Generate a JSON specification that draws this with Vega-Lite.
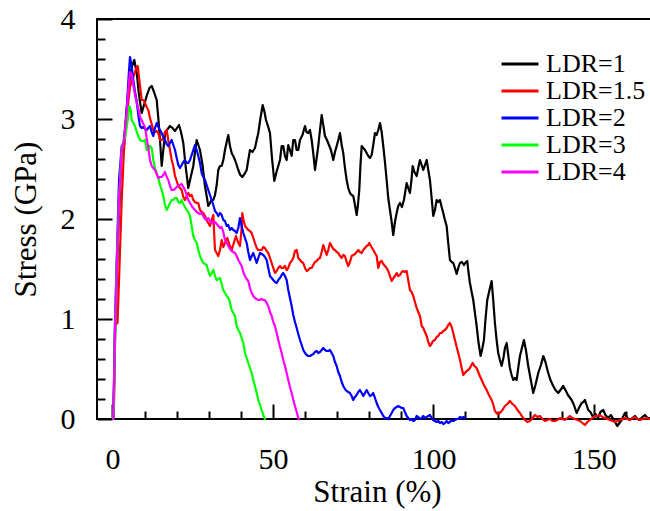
{
"$schema": "https://vega.github.io/schema/vega-lite/v6.json",
"autosize": {"type": "none"},
"padding": {"left": 97, "top": 19, "right": 0, "bottom": 92},
"width": 554,
"height": 400,
"background": "white",
"config": {
  "view": {"stroke": "black", "strokeWidth": 2},
  "font": "Times New Roman, Liberation Serif, DejaVu Serif, serif",
  "axis": {"grid": false, "domain": false, "tickColor": "black", "tickWidth": 2, "labelColor": "black", "titleColor": "black", "labelFont": "Times New Roman, Liberation Serif, DejaVu Serif, serif", "titleFont": "Times New Roman, Liberation Serif, DejaVu Serif, serif", "labelFontSize": 30, "titleFontSize": 31, "titleFontWeight": "normal", "labelOverlap": false, "labelFlush": false},
  "legend": {"labelFont": "Times New Roman, Liberation Serif, DejaVu Serif, serif"}
},
"datasets": {"curves": [
{"LDR":"LDR=1","strain":0.28,"stress":0},{"LDR":"LDR=1","strain":0.97,"stress":0.99},{"LDR":"LDR=1","strain":1.74,"stress":1.79},{"LDR":"LDR=1","strain":2.9,"stress":2.69},{"LDR":"LDR=1","strain":3.61,"stress":2.79},{"LDR":"LDR=1","strain":4.39,"stress":3.09},{"LDR":"LDR=1","strain":5.17,"stress":3.34},{"LDR":"LDR=1","strain":6.01,"stress":3.52},{"LDR":"LDR=1","strain":6.82,"stress":3.59},{"LDR":"LDR=1","strain":7.57,"stress":3.46},{"LDR":"LDR=1","strain":8.29,"stress":3.24},{"LDR":"LDR=1","strain":9.13,"stress":3.06},{"LDR":"LDR=1","strain":9.84,"stress":3.14},{"LDR":"LDR=1","strain":10.78,"stress":3.24},{"LDR":"LDR=1","strain":11.56,"stress":3.31},{"LDR":"LDR=1","strain":12.24,"stress":3.33},{"LDR":"LDR=1","strain":12.96,"stress":3.27},{"LDR":"LDR=1","strain":13.8,"stress":3.19},{"LDR":"LDR=1","strain":14.3,"stress":3.01},{"LDR":"LDR=1","strain":14.83,"stress":2.79},{"LDR":"LDR=1","strain":15.36,"stress":2.53},{"LDR":"LDR=1","strain":15.86,"stress":2.69},{"LDR":"LDR=1","strain":16.38,"stress":2.84},{"LDR":"LDR=1","strain":17.01,"stress":2.89},{"LDR":"LDR=1","strain":17.94,"stress":2.93},{"LDR":"LDR=1","strain":18.72,"stress":2.91},{"LDR":"LDR=1","strain":19.5,"stress":2.88},{"LDR":"LDR=1","strain":20.12,"stress":2.91},{"LDR":"LDR=1","strain":20.75,"stress":2.94},{"LDR":"LDR=1","strain":21.37,"stress":2.87},{"LDR":"LDR=1","strain":22.09,"stress":2.76},{"LDR":"LDR=1","strain":22.77,"stress":2.54},{"LDR":"LDR=1","strain":23.64,"stress":2.31},{"LDR":"LDR=1","strain":24.33,"stress":2.41},{"LDR":"LDR=1","strain":25.2,"stress":2.53},{"LDR":"LDR=1","strain":25.73,"stress":2.67},{"LDR":"LDR=1","strain":26.26,"stress":2.79},{"LDR":"LDR=1","strain":26.76,"stress":2.74},{"LDR":"LDR=1","strain":27.29,"stress":2.69},{"LDR":"LDR=1","strain":28.07,"stress":2.54},{"LDR":"LDR=1","strain":28.84,"stress":2.33},{"LDR":"LDR=1","strain":29.47,"stress":2.21},{"LDR":"LDR=1","strain":29.87,"stress":2.13},{"LDR":"LDR=1","strain":30.4,"stress":2.16},{"LDR":"LDR=1","strain":30.87,"stress":2.19},{"LDR":"LDR=1","strain":31.43,"stress":2.19},{"LDR":"LDR=1","strain":31.96,"stress":2.24},{"LDR":"LDR=1","strain":32.49,"stress":2.34},{"LDR":"LDR=1","strain":32.99,"stress":2.49},{"LDR":"LDR=1","strain":33.52,"stress":2.53},{"LDR":"LDR=1","strain":34.05,"stress":2.53},{"LDR":"LDR=1","strain":34.55,"stress":2.59},{"LDR":"LDR=1","strain":35.07,"stress":2.69},{"LDR":"LDR=1","strain":35.6,"stress":2.77},{"LDR":"LDR=1","strain":36.1,"stress":2.84},{"LDR":"LDR=1","strain":36.63,"stress":2.73},{"LDR":"LDR=1","strain":37.16,"stress":2.66},{"LDR":"LDR=1","strain":37.66,"stress":2.63},{"LDR":"LDR=1","strain":38.19,"stress":2.59},{"LDR":"LDR=1","strain":38.72,"stress":2.54},{"LDR":"LDR=1","strain":39.22,"stress":2.49},{"LDR":"LDR=1","strain":39.84,"stress":2.44},{"LDR":"LDR=1","strain":40.46,"stress":2.42},{"LDR":"LDR=1","strain":41.15,"stress":2.45},{"LDR":"LDR=1","strain":41.83,"stress":2.49},{"LDR":"LDR=1","strain":42.33,"stress":2.59},{"LDR":"LDR=1","strain":42.86,"stress":2.69},{"LDR":"LDR=1","strain":43.64,"stress":2.67},{"LDR":"LDR=1","strain":44.42,"stress":2.71},{"LDR":"LDR=1","strain":44.95,"stress":2.79},{"LDR":"LDR=1","strain":45.45,"stress":2.86},{"LDR":"LDR=1","strain":46.13,"stress":3.01},{"LDR":"LDR=1","strain":46.82,"stress":3.14},{"LDR":"LDR=1","strain":47.38,"stress":3.07},{"LDR":"LDR=1","strain":47.85,"stress":2.99},{"LDR":"LDR=1","strain":48.47,"stress":2.93},{"LDR":"LDR=1","strain":49.09,"stress":2.86},{"LDR":"LDR=1","strain":49.72,"stress":2.61},{"LDR":"LDR=1","strain":50.43,"stress":2.38},{"LDR":"LDR=1","strain":51.12,"stress":2.47},{"LDR":"LDR=1","strain":51.68,"stress":2.53},{"LDR":"LDR=1","strain":52.21,"stress":2.59},{"LDR":"LDR=1","strain":52.74,"stress":2.73},{"LDR":"LDR=1","strain":53.23,"stress":2.73},{"LDR":"LDR=1","strain":53.76,"stress":2.63},{"LDR":"LDR=1","strain":54.29,"stress":2.59},{"LDR":"LDR=1","strain":54.79,"stress":2.74},{"LDR":"LDR=1","strain":55.32,"stress":2.69},{"LDR":"LDR=1","strain":55.85,"stress":2.63},{"LDR":"LDR=1","strain":56.35,"stress":2.79},{"LDR":"LDR=1","strain":56.88,"stress":2.79},{"LDR":"LDR=1","strain":57.41,"stress":2.69},{"LDR":"LDR=1","strain":57.91,"stress":2.69},{"LDR":"LDR=1","strain":58.44,"stress":2.79},{"LDR":"LDR=1","strain":59.22,"stress":2.84},{"LDR":"LDR=1","strain":60.0,"stress":2.93},{"LDR":"LDR=1","strain":60.46,"stress":2.87},{"LDR":"LDR=1","strain":61.02,"stress":2.86},{"LDR":"LDR=1","strain":61.55,"stress":2.89},{"LDR":"LDR=1","strain":62.08,"stress":2.79},{"LDR":"LDR=1","strain":62.64,"stress":2.64},{"LDR":"LDR=1","strain":63.11,"stress":2.49},{"LDR":"LDR=1","strain":63.64,"stress":2.61},{"LDR":"LDR=1","strain":64.14,"stress":2.73},{"LDR":"LDR=1","strain":64.67,"stress":2.89},{"LDR":"LDR=1","strain":65.2,"stress":3.04},{"LDR":"LDR=1","strain":65.7,"stress":2.94},{"LDR":"LDR=1","strain":66.22,"stress":2.83},{"LDR":"LDR=1","strain":66.85,"stress":2.79},{"LDR":"LDR=1","strain":67.47,"stress":2.74},{"LDR":"LDR=1","strain":68.09,"stress":2.69},{"LDR":"LDR=1","strain":68.81,"stress":2.59},{"LDR":"LDR=1","strain":69.34,"stress":2.67},{"LDR":"LDR=1","strain":69.87,"stress":2.73},{"LDR":"LDR=1","strain":70.37,"stress":2.79},{"LDR":"LDR=1","strain":70.9,"stress":2.86},{"LDR":"LDR=1","strain":71.43,"stress":2.74},{"LDR":"LDR=1","strain":71.92,"stress":2.66},{"LDR":"LDR=1","strain":72.45,"stress":2.51},{"LDR":"LDR=1","strain":72.98,"stress":2.39},{"LDR":"LDR=1","strain":73.48,"stress":2.31},{"LDR":"LDR=1","strain":74.01,"stress":2.26},{"LDR":"LDR=1","strain":74.54,"stress":2.24},{"LDR":"LDR=1","strain":75.04,"stress":2.23},{"LDR":"LDR=1","strain":75.57,"stress":2.14},{"LDR":"LDR=1","strain":76.1,"stress":2.04},{"LDR":"LDR=1","strain":76.5,"stress":2.14},{"LDR":"LDR=1","strain":76.91,"stress":2.29},{"LDR":"LDR=1","strain":77.28,"stress":2.54},{"LDR":"LDR=1","strain":77.66,"stress":2.73},{"LDR":"LDR=1","strain":78.16,"stress":2.71},{"LDR":"LDR=1","strain":78.68,"stress":2.69},{"LDR":"LDR=1","strain":79.21,"stress":2.66},{"LDR":"LDR=1","strain":79.71,"stress":2.63},{"LDR":"LDR=1","strain":80.24,"stress":2.61},{"LDR":"LDR=1","strain":80.77,"stress":2.64},{"LDR":"LDR=1","strain":81.27,"stress":2.74},{"LDR":"LDR=1","strain":81.8,"stress":2.86},{"LDR":"LDR=1","strain":82.33,"stress":2.84},{"LDR":"LDR=1","strain":82.83,"stress":2.89},{"LDR":"LDR=1","strain":83.36,"stress":2.96},{"LDR":"LDR=1","strain":83.89,"stress":2.87},{"LDR":"LDR=1","strain":84.39,"stress":2.73},{"LDR":"LDR=1","strain":84.91,"stress":2.57},{"LDR":"LDR=1","strain":85.44,"stress":2.39},{"LDR":"LDR=1","strain":85.94,"stress":2.21},{"LDR":"LDR=1","strain":86.47,"stress":2.09},{"LDR":"LDR=1","strain":87.0,"stress":1.97},{"LDR":"LDR=1","strain":87.5,"stress":1.84},{"LDR":"LDR=1","strain":88.03,"stress":1.97},{"LDR":"LDR=1","strain":88.56,"stress":2.06},{"LDR":"LDR=1","strain":89.06,"stress":2.13},{"LDR":"LDR=1","strain":89.59,"stress":2.16},{"LDR":"LDR=1","strain":90.2,"stress":2.12},{"LDR":"LDR=1","strain":90.83,"stress":2.19},{"LDR":"LDR=1","strain":91.67,"stress":2.36},{"LDR":"LDR=1","strain":92.16,"stress":2.31},{"LDR":"LDR=1","strain":92.69,"stress":2.26},{"LDR":"LDR=1","strain":93.17,"stress":2.39},{"LDR":"LDR=1","strain":93.54,"stress":2.53},{"LDR":"LDR=1","strain":94.1,"stress":2.47},{"LDR":"LDR=1","strain":94.79,"stress":2.43},{"LDR":"LDR=1","strain":95.29,"stress":2.51},{"LDR":"LDR=1","strain":95.82,"stress":2.59},{"LDR":"LDR=1","strain":96.35,"stress":2.54},{"LDR":"LDR=1","strain":96.85,"stress":2.49},{"LDR":"LDR=1","strain":97.38,"stress":2.54},{"LDR":"LDR=1","strain":97.91,"stress":2.59},{"LDR":"LDR=1","strain":98.41,"stress":2.49},{"LDR":"LDR=1","strain":98.93,"stress":2.39},{"LDR":"LDR=1","strain":99.46,"stress":2.21},{"LDR":"LDR=1","strain":99.96,"stress":2.03},{"LDR":"LDR=1","strain":100.49,"stress":2.09},{"LDR":"LDR=1","strain":101.02,"stress":2.19},{"LDR":"LDR=1","strain":101.52,"stress":2.17},{"LDR":"LDR=1","strain":102.05,"stress":2.19},{"LDR":"LDR=1","strain":102.58,"stress":2.12},{"LDR":"LDR=1","strain":103.08,"stress":2.06},{"LDR":"LDR=1","strain":103.6,"stress":1.99},{"LDR":"LDR=1","strain":104.13,"stress":1.93},{"LDR":"LDR=1","strain":104.63,"stress":1.76},{"LDR":"LDR=1","strain":105.16,"stress":1.59},{"LDR":"LDR=1","strain":105.69,"stress":1.57},{"LDR":"LDR=1","strain":106.19,"stress":1.56},{"LDR":"LDR=1","strain":106.72,"stress":1.51},{"LDR":"LDR=1","strain":107.25,"stress":1.45},{"LDR":"LDR=1","strain":107.75,"stress":1.51},{"LDR":"LDR=1","strain":108.28,"stress":1.56},{"LDR":"LDR=1","strain":108.9,"stress":1.57},{"LDR":"LDR=1","strain":109.52,"stress":1.54},{"LDR":"LDR=1","strain":110.15,"stress":1.57},{"LDR":"LDR=1","strain":110.55,"stress":1.58},{"LDR":"LDR=1","strain":110.93,"stress":1.47},{"LDR":"LDR=1","strain":111.39,"stress":1.36},{"LDR":"LDR=1","strain":111.92,"stress":1.27},{"LDR":"LDR=1","strain":112.42,"stress":1.19},{"LDR":"LDR=1","strain":112.95,"stress":1.06},{"LDR":"LDR=1","strain":113.48,"stress":0.93},{"LDR":"LDR=1","strain":114.04,"stress":0.77},{"LDR":"LDR=1","strain":114.72,"stress":0.63},{"LDR":"LDR=1","strain":115.28,"stress":0.71},{"LDR":"LDR=1","strain":115.75,"stress":0.79},{"LDR":"LDR=1","strain":116.22,"stress":0.99},{"LDR":"LDR=1","strain":116.79,"stress":1.19},{"LDR":"LDR=1","strain":117.48,"stress":1.29},{"LDR":"LDR=1","strain":118.15,"stress":1.38},{"LDR":"LDR=1","strain":118.65,"stress":1.19},{"LDR":"LDR=1","strain":119.17,"stress":0.96},{"LDR":"LDR=1","strain":119.7,"stress":0.79},{"LDR":"LDR=1","strain":120.2,"stress":0.66},{"LDR":"LDR=1","strain":120.73,"stress":0.59},{"LDR":"LDR=1","strain":121.26,"stress":0.53},{"LDR":"LDR=1","strain":121.82,"stress":0.61},{"LDR":"LDR=1","strain":122.29,"stress":0.71},{"LDR":"LDR=1","strain":122.82,"stress":0.76},{"LDR":"LDR=1","strain":123.32,"stress":0.64},{"LDR":"LDR=1","strain":123.84,"stress":0.51},{"LDR":"LDR=1","strain":124.37,"stress":0.44},{"LDR":"LDR=1","strain":124.88,"stress":0.39},{"LDR":"LDR=1","strain":125.4,"stress":0.41},{"LDR":"LDR=1","strain":125.93,"stress":0.39},{"LDR":"LDR=1","strain":126.43,"stress":0.51},{"LDR":"LDR=1","strain":126.97,"stress":0.63},{"LDR":"LDR=1","strain":127.59,"stress":0.71},{"LDR":"LDR=1","strain":128.21,"stress":0.79},{"LDR":"LDR=1","strain":128.83,"stress":0.69},{"LDR":"LDR=1","strain":129.55,"stress":0.53},{"LDR":"LDR=1","strain":130.24,"stress":0.41},{"LDR":"LDR=1","strain":131.11,"stress":0.26},{"LDR":"LDR=1","strain":131.8,"stress":0.34},{"LDR":"LDR=1","strain":132.67,"stress":0.46},{"LDR":"LDR=1","strain":133.51,"stress":0.54},{"LDR":"LDR=1","strain":134.23,"stress":0.63},{"LDR":"LDR=1","strain":134.91,"stress":0.57},{"LDR":"LDR=1","strain":135.78,"stress":0.46},{"LDR":"LDR=1","strain":136.47,"stress":0.39},{"LDR":"LDR=1","strain":137.34,"stress":0.33},{"LDR":"LDR=1","strain":138.03,"stress":0.29},{"LDR":"LDR=1","strain":138.9,"stress":0.26},{"LDR":"LDR=1","strain":139.58,"stress":0.29},{"LDR":"LDR=1","strain":140.46,"stress":0.33},{"LDR":"LDR=1","strain":141.14,"stress":0.29},{"LDR":"LDR=1","strain":141.92,"stress":0.24},{"LDR":"LDR=1","strain":143.07,"stress":0.19},{"LDR":"LDR=1","strain":143.79,"stress":0.14},{"LDR":"LDR=1","strain":144.63,"stress":0.06},{"LDR":"LDR=1","strain":145.35,"stress":0.11},{"LDR":"LDR=1","strain":146.19,"stress":0.16},{"LDR":"LDR=1","strain":146.75,"stress":0.17},{"LDR":"LDR=1","strain":147.22,"stress":0.19},{"LDR":"LDR=1","strain":147.74,"stress":0.14},{"LDR":"LDR=1","strain":148.24,"stress":0.09},{"LDR":"LDR=1","strain":148.93,"stress":0.07},{"LDR":"LDR=1","strain":149.71,"stress":0.02},{"LDR":"LDR=1","strain":150.49,"stress":0.05},{"LDR":"LDR=1","strain":151.26,"stress":0.01},{"LDR":"LDR=1","strain":152.04,"stress":0.07},{"LDR":"LDR=1","strain":152.92,"stress":0.09},{"LDR":"LDR=1","strain":153.6,"stress":0.04},{"LDR":"LDR=1","strain":154.47,"stress":0.01},{"LDR":"LDR=1","strain":155.31,"stress":0.04},{"LDR":"LDR=1","strain":156.25,"stress":-0.01},{"LDR":"LDR=1","strain":157.28,"stress":-0.07},{"LDR":"LDR=1","strain":157.96,"stress":-0.04},{"LDR":"LDR=1","strain":158.65,"stress":-0.01},{"LDR":"LDR=1","strain":159.21,"stress":0.03},{"LDR":"LDR=1","strain":159.68,"stress":0.06},{"LDR":"LDR=1","strain":160.45,"stress":0.01},{"LDR":"LDR=1","strain":161.23,"stress":-0.01},{"LDR":"LDR=1","strain":162.01,"stress":0.01},{"LDR":"LDR=1","strain":162.79,"stress":0.03},{"LDR":"LDR=1","strain":163.57,"stress":0},{"LDR":"LDR=1","strain":164.35,"stress":-0.01},{"LDR":"LDR=1","strain":165.13,"stress":0.02},{"LDR":"LDR=1","strain":165.9,"stress":0.04},{"LDR":"LDR=1","strain":166.68,"stress":0.01},{"LDR":"LDR=1","strain":167.46,"stress":0.01},
{"LDR":"LDR=1.5","strain":0.28,"stress":0},{"LDR":"LDR=1.5","strain":0.5,"stress":0.14},{"LDR":"LDR=1.5","strain":0.81,"stress":0.94},{"LDR":"LDR=1.5","strain":1.59,"stress":0.96},{"LDR":"LDR=1.5","strain":2.06,"stress":1.39},{"LDR":"LDR=1.5","strain":2.9,"stress":2.19},{"LDR":"LDR=1.5","strain":3.61,"stress":2.69},{"LDR":"LDR=1.5","strain":4.45,"stress":3.02},{"LDR":"LDR=1.5","strain":5.02,"stress":3.19},{"LDR":"LDR=1.5","strain":5.48,"stress":3.32},{"LDR":"LDR=1.5","strain":6.11,"stress":3.39},{"LDR":"LDR=1.5","strain":6.73,"stress":3.44},{"LDR":"LDR=1.5","strain":7.57,"stress":3.52},{"LDR":"LDR=1.5","strain":7.88,"stress":3.53},{"LDR":"LDR=1.5","strain":8.38,"stress":3.39},{"LDR":"LDR=1.5","strain":9.13,"stress":3.19},{"LDR":"LDR=1.5","strain":9.63,"stress":3.19},{"LDR":"LDR=1.5","strain":10.16,"stress":3.16},{"LDR":"LDR=1.5","strain":10.68,"stress":3.12},{"LDR":"LDR=1.5","strain":11.18,"stress":3.09},{"LDR":"LDR=1.5","strain":11.71,"stress":3.01},{"LDR":"LDR=1.5","strain":12.24,"stress":2.95},{"LDR":"LDR=1.5","strain":12.74,"stress":2.89},{"LDR":"LDR=1.5","strain":13.27,"stress":2.87},{"LDR":"LDR=1.5","strain":13.8,"stress":2.88},{"LDR":"LDR=1.5","strain":14.3,"stress":2.86},{"LDR":"LDR=1.5","strain":14.83,"stress":2.79},{"LDR":"LDR=1.5","strain":15.36,"stress":2.79},{"LDR":"LDR=1.5","strain":15.86,"stress":2.81},{"LDR":"LDR=1.5","strain":16.38,"stress":2.87},{"LDR":"LDR=1.5","strain":16.91,"stress":2.89},{"LDR":"LDR=1.5","strain":17.41,"stress":2.79},{"LDR":"LDR=1.5","strain":17.94,"stress":2.69},{"LDR":"LDR=1.5","strain":18.47,"stress":2.59},{"LDR":"LDR=1.5","strain":18.97,"stress":2.53},{"LDR":"LDR=1.5","strain":19.5,"stress":2.43},{"LDR":"LDR=1.5","strain":20.03,"stress":2.38},{"LDR":"LDR=1.5","strain":20.53,"stress":2.33},{"LDR":"LDR=1.5","strain":21.06,"stress":2.31},{"LDR":"LDR=1.5","strain":21.59,"stress":2.29},{"LDR":"LDR=1.5","strain":22.09,"stress":2.22},{"LDR":"LDR=1.5","strain":22.61,"stress":2.19},{"LDR":"LDR=1.5","strain":23.14,"stress":2.23},{"LDR":"LDR=1.5","strain":23.64,"stress":2.26},{"LDR":"LDR=1.5","strain":24.17,"stress":2.23},{"LDR":"LDR=1.5","strain":24.7,"stress":2.24},{"LDR":"LDR=1.5","strain":25.2,"stress":2.19},{"LDR":"LDR=1.5","strain":25.73,"stress":2.17},{"LDR":"LDR=1.5","strain":26.26,"stress":2.16},{"LDR":"LDR=1.5","strain":26.76,"stress":2.16},{"LDR":"LDR=1.5","strain":27.29,"stress":2.09},{"LDR":"LDR=1.5","strain":27.82,"stress":2.07},{"LDR":"LDR=1.5","strain":28.32,"stress":2.06},{"LDR":"LDR=1.5","strain":28.84,"stress":2.03},{"LDR":"LDR=1.5","strain":29.31,"stress":1.99},{"LDR":"LDR=1.5","strain":29.87,"stress":1.96},{"LDR":"LDR=1.5","strain":30.4,"stress":1.93},{"LDR":"LDR=1.5","strain":30.93,"stress":1.99},{"LDR":"LDR=1.5","strain":31.43,"stress":2.04},{"LDR":"LDR=1.5","strain":31.96,"stress":1.69},{"LDR":"LDR=1.5","strain":32.49,"stress":1.66},{"LDR":"LDR=1.5","strain":32.99,"stress":1.63},{"LDR":"LDR=1.5","strain":33.52,"stress":1.69},{"LDR":"LDR=1.5","strain":34.05,"stress":1.79},{"LDR":"LDR=1.5","strain":34.55,"stress":1.72},{"LDR":"LDR=1.5","strain":35.07,"stress":1.76},{"LDR":"LDR=1.5","strain":35.79,"stress":1.81},{"LDR":"LDR=1.5","strain":36.48,"stress":1.74},{"LDR":"LDR=1.5","strain":37.16,"stress":1.69},{"LDR":"LDR=1.5","strain":37.72,"stress":1.75},{"LDR":"LDR=1.5","strain":38.5,"stress":1.83},{"LDR":"LDR=1.5","strain":39.12,"stress":1.77},{"LDR":"LDR=1.5","strain":39.75,"stress":1.73},{"LDR":"LDR=1.5","strain":40.21,"stress":1.89},{"LDR":"LDR=1.5","strain":40.46,"stress":2.06},{"LDR":"LDR=1.5","strain":40.84,"stress":1.99},{"LDR":"LDR=1.5","strain":41.3,"stress":1.93},{"LDR":"LDR=1.5","strain":41.83,"stress":1.91},{"LDR":"LDR=1.5","strain":42.33,"stress":1.89},{"LDR":"LDR=1.5","strain":42.86,"stress":1.88},{"LDR":"LDR=1.5","strain":43.39,"stress":1.86},{"LDR":"LDR=1.5","strain":43.89,"stress":1.81},{"LDR":"LDR=1.5","strain":44.42,"stress":1.76},{"LDR":"LDR=1.5","strain":44.95,"stress":1.71},{"LDR":"LDR=1.5","strain":45.45,"stress":1.69},{"LDR":"LDR=1.5","strain":45.98,"stress":1.69},{"LDR":"LDR=1.5","strain":46.51,"stress":1.69},{"LDR":"LDR=1.5","strain":47.01,"stress":1.72},{"LDR":"LDR=1.5","strain":47.53,"stress":1.71},{"LDR":"LDR=1.5","strain":48.06,"stress":1.68},{"LDR":"LDR=1.5","strain":48.56,"stress":1.66},{"LDR":"LDR=1.5","strain":49.09,"stress":1.61},{"LDR":"LDR=1.5","strain":49.62,"stress":1.56},{"LDR":"LDR=1.5","strain":50.12,"stress":1.51},{"LDR":"LDR=1.5","strain":50.65,"stress":1.46},{"LDR":"LDR=1.5","strain":51.18,"stress":1.48},{"LDR":"LDR=1.5","strain":51.68,"stress":1.51},{"LDR":"LDR=1.5","strain":52.21,"stress":1.53},{"LDR":"LDR=1.5","strain":52.74,"stress":1.51},{"LDR":"LDR=1.5","strain":53.23,"stress":1.51},{"LDR":"LDR=1.5","strain":53.76,"stress":1.53},{"LDR":"LDR=1.5","strain":54.29,"stress":1.49},{"LDR":"LDR=1.5","strain":54.79,"stress":1.51},{"LDR":"LDR=1.5","strain":55.32,"stress":1.56},{"LDR":"LDR=1.5","strain":55.85,"stress":1.58},{"LDR":"LDR=1.5","strain":56.35,"stress":1.61},{"LDR":"LDR=1.5","strain":56.88,"stress":1.68},{"LDR":"LDR=1.5","strain":57.41,"stress":1.69},{"LDR":"LDR=1.5","strain":57.91,"stress":1.61},{"LDR":"LDR=1.5","strain":58.44,"stress":1.59},{"LDR":"LDR=1.5","strain":58.97,"stress":1.57},{"LDR":"LDR=1.5","strain":59.47,"stress":1.56},{"LDR":"LDR=1.5","strain":60.0,"stress":1.51},{"LDR":"LDR=1.5","strain":60.53,"stress":1.48},{"LDR":"LDR=1.5","strain":61.02,"stress":1.49},{"LDR":"LDR=1.5","strain":61.55,"stress":1.51},{"LDR":"LDR=1.5","strain":62.08,"stress":1.51},{"LDR":"LDR=1.5","strain":62.58,"stress":1.54},{"LDR":"LDR=1.5","strain":63.11,"stress":1.57},{"LDR":"LDR=1.5","strain":63.64,"stress":1.58},{"LDR":"LDR=1.5","strain":64.14,"stress":1.6},{"LDR":"LDR=1.5","strain":64.67,"stress":1.61},{"LDR":"LDR=1.5","strain":65.2,"stress":1.67},{"LDR":"LDR=1.5","strain":65.7,"stress":1.74},{"LDR":"LDR=1.5","strain":66.22,"stress":1.69},{"LDR":"LDR=1.5","strain":66.76,"stress":1.64},{"LDR":"LDR=1.5","strain":67.25,"stress":1.69},{"LDR":"LDR=1.5","strain":67.78,"stress":1.76},{"LDR":"LDR=1.5","strain":68.31,"stress":1.73},{"LDR":"LDR=1.5","strain":68.81,"stress":1.7},{"LDR":"LDR=1.5","strain":69.34,"stress":1.69},{"LDR":"LDR=1.5","strain":69.87,"stress":1.67},{"LDR":"LDR=1.5","strain":70.37,"stress":1.66},{"LDR":"LDR=1.5","strain":70.9,"stress":1.63},{"LDR":"LDR=1.5","strain":71.43,"stress":1.61},{"LDR":"LDR=1.5","strain":71.92,"stress":1.64},{"LDR":"LDR=1.5","strain":72.45,"stress":1.63},{"LDR":"LDR=1.5","strain":72.98,"stress":1.57},{"LDR":"LDR=1.5","strain":73.48,"stress":1.53},{"LDR":"LDR=1.5","strain":74.01,"stress":1.57},{"LDR":"LDR=1.5","strain":74.54,"stress":1.63},{"LDR":"LDR=1.5","strain":75.04,"stress":1.64},{"LDR":"LDR=1.5","strain":75.57,"stress":1.65},{"LDR":"LDR=1.5","strain":76.1,"stress":1.67},{"LDR":"LDR=1.5","strain":76.6,"stress":1.69},{"LDR":"LDR=1.5","strain":77.13,"stress":1.67},{"LDR":"LDR=1.5","strain":77.66,"stress":1.66},{"LDR":"LDR=1.5","strain":78.16,"stress":1.69},{"LDR":"LDR=1.5","strain":78.68,"stress":1.71},{"LDR":"LDR=1.5","strain":79.21,"stress":1.73},{"LDR":"LDR=1.5","strain":79.71,"stress":1.74},{"LDR":"LDR=1.5","strain":80.02,"stress":1.76},{"LDR":"LDR=1.5","strain":80.71,"stress":1.72},{"LDR":"LDR=1.5","strain":81.27,"stress":1.69},{"LDR":"LDR=1.5","strain":81.8,"stress":1.66},{"LDR":"LDR=1.5","strain":82.33,"stress":1.63},{"LDR":"LDR=1.5","strain":82.83,"stress":1.51},{"LDR":"LDR=1.5","strain":83.36,"stress":1.57},{"LDR":"LDR=1.5","strain":83.89,"stress":1.58},{"LDR":"LDR=1.5","strain":84.39,"stress":1.55},{"LDR":"LDR=1.5","strain":84.91,"stress":1.53},{"LDR":"LDR=1.5","strain":85.44,"stress":1.51},{"LDR":"LDR=1.5","strain":85.94,"stress":1.48},{"LDR":"LDR=1.5","strain":86.47,"stress":1.43},{"LDR":"LDR=1.5","strain":87.0,"stress":1.38},{"LDR":"LDR=1.5","strain":87.56,"stress":1.41},{"LDR":"LDR=1.5","strain":88.03,"stress":1.43},{"LDR":"LDR=1.5","strain":88.56,"stress":1.46},{"LDR":"LDR=1.5","strain":89.06,"stress":1.43},{"LDR":"LDR=1.5","strain":89.59,"stress":1.44},{"LDR":"LDR=1.5","strain":90.12,"stress":1.47},{"LDR":"LDR=1.5","strain":90.62,"stress":1.48},{"LDR":"LDR=1.5","strain":91.13,"stress":1.47},{"LDR":"LDR=1.5","strain":91.67,"stress":1.48},{"LDR":"LDR=1.5","strain":92.16,"stress":1.39},{"LDR":"LDR=1.5","strain":92.69,"stress":1.29},{"LDR":"LDR=1.5","strain":93.22,"stress":1.27},{"LDR":"LDR=1.5","strain":93.73,"stress":1.23},{"LDR":"LDR=1.5","strain":94.26,"stress":1.17},{"LDR":"LDR=1.5","strain":94.79,"stress":1.11},{"LDR":"LDR=1.5","strain":95.29,"stress":1.07},{"LDR":"LDR=1.5","strain":95.82,"stress":1.03},{"LDR":"LDR=1.5","strain":96.35,"stress":0.93},{"LDR":"LDR=1.5","strain":96.85,"stress":0.91},{"LDR":"LDR=1.5","strain":97.38,"stress":0.87},{"LDR":"LDR=1.5","strain":97.91,"stress":0.83},{"LDR":"LDR=1.5","strain":98.41,"stress":0.77},{"LDR":"LDR=1.5","strain":98.93,"stress":0.73},{"LDR":"LDR=1.5","strain":99.4,"stress":0.75},{"LDR":"LDR=1.5","strain":99.87,"stress":0.78},{"LDR":"LDR=1.5","strain":100.49,"stress":0.79},{"LDR":"LDR=1.5","strain":101.02,"stress":0.82},{"LDR":"LDR=1.5","strain":101.52,"stress":0.83},{"LDR":"LDR=1.5","strain":102.05,"stress":0.86},{"LDR":"LDR=1.5","strain":102.58,"stress":0.86},{"LDR":"LDR=1.5","strain":103.08,"stress":0.88},{"LDR":"LDR=1.5","strain":103.6,"stress":0.89},{"LDR":"LDR=1.5","strain":104.13,"stress":0.91},{"LDR":"LDR=1.5","strain":104.63,"stress":0.94},{"LDR":"LDR=1.5","strain":105.16,"stress":0.96},{"LDR":"LDR=1.5","strain":105.69,"stress":0.92},{"LDR":"LDR=1.5","strain":106.19,"stress":0.86},{"LDR":"LDR=1.5","strain":106.72,"stress":0.79},{"LDR":"LDR=1.5","strain":107.25,"stress":0.72},{"LDR":"LDR=1.5","strain":107.75,"stress":0.66},{"LDR":"LDR=1.5","strain":108.28,"stress":0.59},{"LDR":"LDR=1.5","strain":108.81,"stress":0.51},{"LDR":"LDR=1.5","strain":109.31,"stress":0.44},{"LDR":"LDR=1.5","strain":109.83,"stress":0.46},{"LDR":"LDR=1.5","strain":110.36,"stress":0.48},{"LDR":"LDR=1.5","strain":110.86,"stress":0.49},{"LDR":"LDR=1.5","strain":111.39,"stress":0.51},{"LDR":"LDR=1.5","strain":111.86,"stress":0.54},{"LDR":"LDR=1.5","strain":112.23,"stress":0.56},{"LDR":"LDR=1.5","strain":112.79,"stress":0.53},{"LDR":"LDR=1.5","strain":113.48,"stress":0.51},{"LDR":"LDR=1.5","strain":114.2,"stress":0.45},{"LDR":"LDR=1.5","strain":115.04,"stress":0.39},{"LDR":"LDR=1.5","strain":115.75,"stress":0.34},{"LDR":"LDR=1.5","strain":116.6,"stress":0.29},{"LDR":"LDR=1.5","strain":117.31,"stress":0.24},{"LDR":"LDR=1.5","strain":118.15,"stress":0.19},{"LDR":"LDR=1.5","strain":118.71,"stress":0.14},{"LDR":"LDR=1.5","strain":119.17,"stress":0.08},{"LDR":"LDR=1.5","strain":119.96,"stress":0.05},{"LDR":"LDR=1.5","strain":120.73,"stress":0.06},{"LDR":"LDR=1.5","strain":121.52,"stress":0.09},{"LDR":"LDR=1.5","strain":122.29,"stress":0.13},{"LDR":"LDR=1.5","strain":123.07,"stress":0.15},{"LDR":"LDR=1.5","strain":123.84,"stress":0.18},{"LDR":"LDR=1.5","strain":124.63,"stress":0.15},{"LDR":"LDR=1.5","strain":125.4,"stress":0.13},{"LDR":"LDR=1.5","strain":126.19,"stress":0.09},{"LDR":"LDR=1.5","strain":126.97,"stress":0.06},{"LDR":"LDR=1.5","strain":127.75,"stress":0.02},{"LDR":"LDR=1.5","strain":128.53,"stress":-0.01},{"LDR":"LDR=1.5","strain":129.3,"stress":-0.03},{"LDR":"LDR=1.5","strain":130.08,"stress":-0.02},{"LDR":"LDR=1.5","strain":130.86,"stress":0.01},{"LDR":"LDR=1.5","strain":131.64,"stress":0.04},{"LDR":"LDR=1.5","strain":132.42,"stress":0.02},{"LDR":"LDR=1.5","strain":133.2,"stress":0.03},{"LDR":"LDR=1.5","strain":133.98,"stress":0},{"LDR":"LDR=1.5","strain":134.76,"stress":-0.02},{"LDR":"LDR=1.5","strain":135.53,"stress":-0.01},{"LDR":"LDR=1.5","strain":136.31,"stress":0},{"LDR":"LDR=1.5","strain":137.09,"stress":-0.02},{"LDR":"LDR=1.5","strain":137.87,"stress":-0.02},{"LDR":"LDR=1.5","strain":138.65,"stress":-0.01},{"LDR":"LDR=1.5","strain":139.43,"stress":0.01},{"LDR":"LDR=1.5","strain":140.21,"stress":0},{"LDR":"LDR=1.5","strain":140.99,"stress":-0.01},{"LDR":"LDR=1.5","strain":141.76,"stress":0.01},{"LDR":"LDR=1.5","strain":142.54,"stress":0.03},{"LDR":"LDR=1.5","strain":143.32,"stress":0.01},{"LDR":"LDR=1.5","strain":144.1,"stress":0},{"LDR":"LDR=1.5","strain":144.88,"stress":-0.01},{"LDR":"LDR=1.5","strain":145.66,"stress":-0.02},{"LDR":"LDR=1.5","strain":146.44,"stress":-0.04},{"LDR":"LDR=1.5","strain":147.22,"stress":-0.06},{"LDR":"LDR=1.5","strain":147.99,"stress":-0.03},{"LDR":"LDR=1.5","strain":148.77,"stress":-0.01},{"LDR":"LDR=1.5","strain":149.55,"stress":0.01},{"LDR":"LDR=1.5","strain":150.33,"stress":0.03},{"LDR":"LDR=1.5","strain":151.11,"stress":0.03},{"LDR":"LDR=1.5","strain":151.89,"stress":0.04},{"LDR":"LDR=1.5","strain":152.67,"stress":0.02},{"LDR":"LDR=1.5","strain":153.45,"stress":0.01},{"LDR":"LDR=1.5","strain":154.22,"stress":0},{"LDR":"LDR=1.5","strain":155.0,"stress":-0.01},{"LDR":"LDR=1.5","strain":155.78,"stress":-0.02},{"LDR":"LDR=1.5","strain":156.56,"stress":-0.03},{"LDR":"LDR=1.5","strain":157.34,"stress":-0.02},{"LDR":"LDR=1.5","strain":158.12,"stress":-0.01},{"LDR":"LDR=1.5","strain":158.9,"stress":0},{"LDR":"LDR=1.5","strain":159.68,"stress":0.01},{"LDR":"LDR=1.5","strain":160.45,"stress":0},{"LDR":"LDR=1.5","strain":161.23,"stress":-0.01},{"LDR":"LDR=1.5","strain":162.01,"stress":0.01},{"LDR":"LDR=1.5","strain":162.79,"stress":0.02},{"LDR":"LDR=1.5","strain":163.57,"stress":0},{"LDR":"LDR=1.5","strain":164.35,"stress":-0.01},{"LDR":"LDR=1.5","strain":165.13,"stress":0},{"LDR":"LDR=1.5","strain":166.43,"stress":0.01},{"LDR":"LDR=1.5","strain":167.46,"stress":0},
{"LDR":"LDR=2","strain":0.28,"stress":0},{"LDR":"LDR=2","strain":0.5,"stress":0.39},{"LDR":"LDR=2","strain":0.81,"stress":0.99},{"LDR":"LDR=2","strain":1.43,"stress":1.69},{"LDR":"LDR=2","strain":2.06,"stress":2.39},{"LDR":"LDR=2","strain":2.9,"stress":2.73},{"LDR":"LDR=2","strain":3.61,"stress":2.77},{"LDR":"LDR=2","strain":4.08,"stress":2.89},{"LDR":"LDR=2","strain":4.64,"stress":3.19},{"LDR":"LDR=2","strain":5.08,"stress":3.44},{"LDR":"LDR=2","strain":5.48,"stress":3.62},{"LDR":"LDR=2","strain":5.95,"stress":3.54},{"LDR":"LDR=2","strain":6.51,"stress":3.39},{"LDR":"LDR=2","strain":7.04,"stress":3.27},{"LDR":"LDR=2","strain":7.57,"stress":3.18},{"LDR":"LDR=2","strain":8.07,"stress":3.04},{"LDR":"LDR=2","strain":8.6,"stress":2.93},{"LDR":"LDR=2","strain":9.13,"stress":2.91},{"LDR":"LDR=2","strain":9.63,"stress":2.92},{"LDR":"LDR=2","strain":10.16,"stress":2.9},{"LDR":"LDR=2","strain":10.68,"stress":2.89},{"LDR":"LDR=2","strain":11.18,"stress":2.91},{"LDR":"LDR=2","strain":11.71,"stress":2.93},{"LDR":"LDR=2","strain":12.24,"stress":2.87},{"LDR":"LDR=2","strain":12.74,"stress":2.83},{"LDR":"LDR=2","strain":13.27,"stress":2.91},{"LDR":"LDR=2","strain":13.8,"stress":2.96},{"LDR":"LDR=2","strain":14.3,"stress":2.92},{"LDR":"LDR=2","strain":14.83,"stress":2.89},{"LDR":"LDR=2","strain":15.36,"stress":2.86},{"LDR":"LDR=2","strain":15.86,"stress":2.82},{"LDR":"LDR=2","strain":16.38,"stress":2.79},{"LDR":"LDR=2","strain":16.91,"stress":2.75},{"LDR":"LDR=2","strain":17.41,"stress":2.73},{"LDR":"LDR=2","strain":17.94,"stress":2.76},{"LDR":"LDR=2","strain":18.47,"stress":2.79},{"LDR":"LDR=2","strain":18.97,"stress":2.74},{"LDR":"LDR=2","strain":19.5,"stress":2.69},{"LDR":"LDR=2","strain":20.03,"stress":2.61},{"LDR":"LDR=2","strain":20.53,"stress":2.54},{"LDR":"LDR=2","strain":21.06,"stress":2.51},{"LDR":"LDR=2","strain":21.59,"stress":2.54},{"LDR":"LDR=2","strain":22.09,"stress":2.57},{"LDR":"LDR=2","strain":22.61,"stress":2.59},{"LDR":"LDR=2","strain":23.14,"stress":2.56},{"LDR":"LDR=2","strain":23.64,"stress":2.56},{"LDR":"LDR=2","strain":24.17,"stress":2.59},{"LDR":"LDR=2","strain":24.7,"stress":2.64},{"LDR":"LDR=2","strain":25.2,"stress":2.69},{"LDR":"LDR=2","strain":25.73,"stress":2.74},{"LDR":"LDR=2","strain":26.26,"stress":2.69},{"LDR":"LDR=2","strain":26.76,"stress":2.63},{"LDR":"LDR=2","strain":27.29,"stress":2.56},{"LDR":"LDR=2","strain":27.82,"stress":2.46},{"LDR":"LDR=2","strain":28.32,"stress":2.42},{"LDR":"LDR=2","strain":28.84,"stress":2.39},{"LDR":"LDR=2","strain":29.37,"stress":2.34},{"LDR":"LDR=2","strain":29.87,"stress":2.29},{"LDR":"LDR=2","strain":30.4,"stress":2.24},{"LDR":"LDR=2","strain":30.93,"stress":2.19},{"LDR":"LDR=2","strain":31.43,"stress":2.14},{"LDR":"LDR=2","strain":31.96,"stress":2.08},{"LDR":"LDR=2","strain":32.49,"stress":2.06},{"LDR":"LDR=2","strain":32.99,"stress":2.03},{"LDR":"LDR=2","strain":33.52,"stress":2.06},{"LDR":"LDR=2","strain":34.05,"stress":2.04},{"LDR":"LDR=2","strain":34.55,"stress":1.99},{"LDR":"LDR=2","strain":35.07,"stress":1.98},{"LDR":"LDR=2","strain":35.6,"stress":1.93},{"LDR":"LDR=2","strain":36.1,"stress":1.94},{"LDR":"LDR=2","strain":36.63,"stress":1.89},{"LDR":"LDR=2","strain":37.16,"stress":1.91},{"LDR":"LDR=2","strain":37.66,"stress":1.89},{"LDR":"LDR=2","strain":38.19,"stress":1.88},{"LDR":"LDR=2","strain":38.72,"stress":1.86},{"LDR":"LDR=2","strain":39.22,"stress":1.91},{"LDR":"LDR=2","strain":39.75,"stress":2.01},{"LDR":"LDR=2","strain":40.28,"stress":1.93},{"LDR":"LDR=2","strain":40.78,"stress":1.86},{"LDR":"LDR=2","strain":41.3,"stress":1.81},{"LDR":"LDR=2","strain":41.83,"stress":1.76},{"LDR":"LDR=2","strain":42.33,"stress":1.67},{"LDR":"LDR=2","strain":42.86,"stress":1.59},{"LDR":"LDR=2","strain":43.39,"stress":1.63},{"LDR":"LDR=2","strain":43.89,"stress":1.66},{"LDR":"LDR=2","strain":44.42,"stress":1.61},{"LDR":"LDR=2","strain":44.95,"stress":1.56},{"LDR":"LDR=2","strain":45.45,"stress":1.61},{"LDR":"LDR=2","strain":45.98,"stress":1.66},{"LDR":"LDR=2","strain":46.51,"stress":1.65},{"LDR":"LDR=2","strain":47.01,"stress":1.64},{"LDR":"LDR=2","strain":47.53,"stress":1.62},{"LDR":"LDR=2","strain":48.06,"stress":1.59},{"LDR":"LDR=2","strain":48.56,"stress":1.51},{"LDR":"LDR=2","strain":49.09,"stress":1.43},{"LDR":"LDR=2","strain":49.62,"stress":1.41},{"LDR":"LDR=2","strain":50.12,"stress":1.39},{"LDR":"LDR=2","strain":50.65,"stress":1.37},{"LDR":"LDR=2","strain":51.18,"stress":1.36},{"LDR":"LDR=2","strain":51.68,"stress":1.39},{"LDR":"LDR=2","strain":52.21,"stress":1.41},{"LDR":"LDR=2","strain":52.74,"stress":1.44},{"LDR":"LDR=2","strain":53.23,"stress":1.46},{"LDR":"LDR=2","strain":53.76,"stress":1.43},{"LDR":"LDR=2","strain":54.29,"stress":1.39},{"LDR":"LDR=2","strain":54.79,"stress":1.29},{"LDR":"LDR=2","strain":55.32,"stress":1.21},{"LDR":"LDR=2","strain":55.85,"stress":1.13},{"LDR":"LDR=2","strain":56.35,"stress":1.04},{"LDR":"LDR=2","strain":56.88,"stress":0.97},{"LDR":"LDR=2","strain":57.41,"stress":0.91},{"LDR":"LDR=2","strain":57.91,"stress":0.85},{"LDR":"LDR=2","strain":58.44,"stress":0.79},{"LDR":"LDR=2","strain":58.97,"stress":0.74},{"LDR":"LDR=2","strain":59.47,"stress":0.69},{"LDR":"LDR=2","strain":60.0,"stress":0.66},{"LDR":"LDR=2","strain":60.53,"stress":0.64},{"LDR":"LDR=2","strain":61.02,"stress":0.63},{"LDR":"LDR=2","strain":61.55,"stress":0.63},{"LDR":"LDR=2","strain":62.08,"stress":0.64},{"LDR":"LDR=2","strain":62.58,"stress":0.65},{"LDR":"LDR=2","strain":63.11,"stress":0.67},{"LDR":"LDR=2","strain":63.64,"stress":0.68},{"LDR":"LDR=2","strain":64.14,"stress":0.66},{"LDR":"LDR=2","strain":64.67,"stress":0.67},{"LDR":"LDR=2","strain":65.2,"stress":0.69},{"LDR":"LDR=2","strain":65.7,"stress":0.71},{"LDR":"LDR=2","strain":66.22,"stress":0.69},{"LDR":"LDR=2","strain":66.76,"stress":0.68},{"LDR":"LDR=2","strain":67.25,"stress":0.68},{"LDR":"LDR=2","strain":67.78,"stress":0.69},{"LDR":"LDR=2","strain":68.31,"stress":0.66},{"LDR":"LDR=2","strain":68.81,"stress":0.63},{"LDR":"LDR=2","strain":69.34,"stress":0.57},{"LDR":"LDR=2","strain":69.87,"stress":0.53},{"LDR":"LDR=2","strain":70.37,"stress":0.47},{"LDR":"LDR=2","strain":70.9,"stress":0.43},{"LDR":"LDR=2","strain":71.43,"stress":0.37},{"LDR":"LDR=2","strain":71.92,"stress":0.33},{"LDR":"LDR=2","strain":72.45,"stress":0.3},{"LDR":"LDR=2","strain":72.98,"stress":0.28},{"LDR":"LDR=2","strain":73.48,"stress":0.27},{"LDR":"LDR=2","strain":74.01,"stress":0.26},{"LDR":"LDR=2","strain":74.54,"stress":0.23},{"LDR":"LDR=2","strain":75.04,"stress":0.19},{"LDR":"LDR=2","strain":75.57,"stress":0.22},{"LDR":"LDR=2","strain":76.1,"stress":0.24},{"LDR":"LDR=2","strain":76.6,"stress":0.27},{"LDR":"LDR=2","strain":77.13,"stress":0.29},{"LDR":"LDR=2","strain":77.66,"stress":0.26},{"LDR":"LDR=2","strain":78.16,"stress":0.23},{"LDR":"LDR=2","strain":78.68,"stress":0.26},{"LDR":"LDR=2","strain":79.21,"stress":0.29},{"LDR":"LDR=2","strain":79.71,"stress":0.26},{"LDR":"LDR=2","strain":80.24,"stress":0.23},{"LDR":"LDR=2","strain":80.77,"stress":0.24},{"LDR":"LDR=2","strain":81.27,"stress":0.26},{"LDR":"LDR=2","strain":81.8,"stress":0.21},{"LDR":"LDR=2","strain":82.33,"stress":0.16},{"LDR":"LDR=2","strain":82.83,"stress":0.12},{"LDR":"LDR=2","strain":83.36,"stress":0.09},{"LDR":"LDR=2","strain":83.89,"stress":0.06},{"LDR":"LDR=2","strain":84.39,"stress":0.03},{"LDR":"LDR=2","strain":84.91,"stress":0.01},{"LDR":"LDR=2","strain":85.44,"stress":0.01},{"LDR":"LDR=2","strain":85.94,"stress":0},{"LDR":"LDR=2","strain":86.47,"stress":0.03},{"LDR":"LDR=2","strain":87.0,"stress":0.06},{"LDR":"LDR=2","strain":87.5,"stress":0.09},{"LDR":"LDR=2","strain":88.03,"stress":0.11},{"LDR":"LDR=2","strain":88.56,"stress":0.12},{"LDR":"LDR=2","strain":89.06,"stress":0.13},{"LDR":"LDR=2","strain":89.59,"stress":0.12},{"LDR":"LDR=2","strain":90.12,"stress":0.11},{"LDR":"LDR=2","strain":90.62,"stress":0.11},{"LDR":"LDR=2","strain":91.13,"stress":0.07},{"LDR":"LDR=2","strain":91.67,"stress":0.03},{"LDR":"LDR=2","strain":92.16,"stress":0.01},{"LDR":"LDR=2","strain":92.69,"stress":-0.01},{"LDR":"LDR=2","strain":93.22,"stress":0},{"LDR":"LDR=2","strain":93.73,"stress":-0.02},{"LDR":"LDR=2","strain":94.26,"stress":-0.01},{"LDR":"LDR=2","strain":94.79,"stress":0.03},{"LDR":"LDR=2","strain":95.29,"stress":0.02},{"LDR":"LDR=2","strain":95.82,"stress":0},{"LDR":"LDR=2","strain":96.35,"stress":0.01},{"LDR":"LDR=2","strain":96.85,"stress":0.03},{"LDR":"LDR=2","strain":97.38,"stress":0.01},{"LDR":"LDR=2","strain":97.91,"stress":0.02},{"LDR":"LDR=2","strain":98.41,"stress":0.03},{"LDR":"LDR=2","strain":98.93,"stress":0.04},{"LDR":"LDR=2","strain":99.46,"stress":0.01},{"LDR":"LDR=2","strain":99.96,"stress":-0.01},{"LDR":"LDR=2","strain":100.49,"stress":-0.02},{"LDR":"LDR=2","strain":101.02,"stress":-0.03},{"LDR":"LDR=2","strain":101.52,"stress":-0.02},{"LDR":"LDR=2","strain":102.05,"stress":-0.04},{"LDR":"LDR=2","strain":102.58,"stress":-0.03},{"LDR":"LDR=2","strain":103.08,"stress":-0.05},{"LDR":"LDR=2","strain":103.6,"stress":-0.04},{"LDR":"LDR=2","strain":104.13,"stress":-0.02},{"LDR":"LDR=2","strain":104.63,"stress":-0.04},{"LDR":"LDR=2","strain":105.16,"stress":-0.03},{"LDR":"LDR=2","strain":105.69,"stress":-0.01},{"LDR":"LDR=2","strain":106.19,"stress":-0.02},{"LDR":"LDR=2","strain":106.72,"stress":-0.01},{"LDR":"LDR=2","strain":107.25,"stress":0},{"LDR":"LDR=2","strain":107.75,"stress":0},{"LDR":"LDR=2","strain":108.28,"stress":0.02},{"LDR":"LDR=2","strain":108.81,"stress":0.01},{"LDR":"LDR=2","strain":109.31,"stress":0.02},{"LDR":"LDR=2","strain":109.83,"stress":0.01},
{"LDR":"LDR=3","strain":0.28,"stress":0},{"LDR":"LDR=3","strain":0.5,"stress":0.19},{"LDR":"LDR=3","strain":0.81,"stress":0.89},{"LDR":"LDR=3","strain":1.43,"stress":1.59},{"LDR":"LDR=3","strain":2.06,"stress":2.19},{"LDR":"LDR=3","strain":2.9,"stress":2.69},{"LDR":"LDR=3","strain":3.46,"stress":2.79},{"LDR":"LDR=3","strain":3.92,"stress":2.81},{"LDR":"LDR=3","strain":4.55,"stress":2.94},{"LDR":"LDR=3","strain":5.26,"stress":3.13},{"LDR":"LDR=3","strain":5.7,"stress":3.09},{"LDR":"LDR=3","strain":6.01,"stress":2.99},{"LDR":"LDR=3","strain":6.51,"stress":2.96},{"LDR":"LDR=3","strain":7.04,"stress":2.93},{"LDR":"LDR=3","strain":7.57,"stress":2.87},{"LDR":"LDR=3","strain":8.07,"stress":2.83},{"LDR":"LDR=3","strain":8.6,"stress":2.79},{"LDR":"LDR=3","strain":9.13,"stress":2.78},{"LDR":"LDR=3","strain":9.63,"stress":2.78},{"LDR":"LDR=3","strain":10.16,"stress":2.79},{"LDR":"LDR=3","strain":10.68,"stress":2.69},{"LDR":"LDR=3","strain":11.18,"stress":2.69},{"LDR":"LDR=3","strain":11.71,"stress":2.73},{"LDR":"LDR=3","strain":12.24,"stress":2.71},{"LDR":"LDR=3","strain":12.74,"stress":2.59},{"LDR":"LDR=3","strain":13.27,"stress":2.51},{"LDR":"LDR=3","strain":13.8,"stress":2.46},{"LDR":"LDR=3","strain":14.3,"stress":2.41},{"LDR":"LDR=3","strain":14.83,"stress":2.34},{"LDR":"LDR=3","strain":15.36,"stress":2.29},{"LDR":"LDR=3","strain":15.86,"stress":2.23},{"LDR":"LDR=3","strain":16.38,"stress":2.14},{"LDR":"LDR=3","strain":16.91,"stress":2.09},{"LDR":"LDR=3","strain":17.41,"stress":2.12},{"LDR":"LDR=3","strain":17.94,"stress":2.16},{"LDR":"LDR=3","strain":18.47,"stress":2.19},{"LDR":"LDR=3","strain":18.97,"stress":2.19},{"LDR":"LDR=3","strain":19.5,"stress":2.21},{"LDR":"LDR=3","strain":20.03,"stress":2.21},{"LDR":"LDR=3","strain":20.53,"stress":2.17},{"LDR":"LDR=3","strain":21.06,"stress":2.16},{"LDR":"LDR=3","strain":21.59,"stress":2.19},{"LDR":"LDR=3","strain":22.09,"stress":2.15},{"LDR":"LDR=3","strain":22.61,"stress":2.12},{"LDR":"LDR=3","strain":23.14,"stress":2.09},{"LDR":"LDR=3","strain":23.64,"stress":2.07},{"LDR":"LDR=3","strain":24.17,"stress":2.03},{"LDR":"LDR=3","strain":24.7,"stress":1.93},{"LDR":"LDR=3","strain":25.2,"stress":1.83},{"LDR":"LDR=3","strain":25.73,"stress":1.79},{"LDR":"LDR=3","strain":26.26,"stress":1.76},{"LDR":"LDR=3","strain":26.76,"stress":1.69},{"LDR":"LDR=3","strain":27.29,"stress":1.63},{"LDR":"LDR=3","strain":27.82,"stress":1.59},{"LDR":"LDR=3","strain":28.32,"stress":1.56},{"LDR":"LDR=3","strain":28.84,"stress":1.55},{"LDR":"LDR=3","strain":29.37,"stress":1.54},{"LDR":"LDR=3","strain":29.87,"stress":1.48},{"LDR":"LDR=3","strain":30.4,"stress":1.43},{"LDR":"LDR=3","strain":30.93,"stress":1.46},{"LDR":"LDR=3","strain":31.43,"stress":1.49},{"LDR":"LDR=3","strain":31.96,"stress":1.43},{"LDR":"LDR=3","strain":32.49,"stress":1.39},{"LDR":"LDR=3","strain":32.99,"stress":1.4},{"LDR":"LDR=3","strain":33.52,"stress":1.41},{"LDR":"LDR=3","strain":34.05,"stress":1.35},{"LDR":"LDR=3","strain":34.55,"stress":1.29},{"LDR":"LDR=3","strain":35.07,"stress":1.26},{"LDR":"LDR=3","strain":35.6,"stress":1.23},{"LDR":"LDR=3","strain":36.1,"stress":1.21},{"LDR":"LDR=3","strain":36.41,"stress":1.19},{"LDR":"LDR=3","strain":36.79,"stress":1.14},{"LDR":"LDR=3","strain":37.16,"stress":1.09},{"LDR":"LDR=3","strain":37.66,"stress":1.06},{"LDR":"LDR=3","strain":38.19,"stress":1.03},{"LDR":"LDR=3","strain":38.72,"stress":0.93},{"LDR":"LDR=3","strain":39.22,"stress":0.89},{"LDR":"LDR=3","strain":39.75,"stress":0.86},{"LDR":"LDR=3","strain":40.28,"stress":0.81},{"LDR":"LDR=3","strain":40.78,"stress":0.76},{"LDR":"LDR=3","strain":41.3,"stress":0.66},{"LDR":"LDR=3","strain":41.83,"stress":0.61},{"LDR":"LDR=3","strain":42.33,"stress":0.56},{"LDR":"LDR=3","strain":42.86,"stress":0.51},{"LDR":"LDR=3","strain":43.39,"stress":0.46},{"LDR":"LDR=3","strain":43.89,"stress":0.39},{"LDR":"LDR=3","strain":44.42,"stress":0.33},{"LDR":"LDR=3","strain":44.95,"stress":0.26},{"LDR":"LDR=3","strain":45.45,"stress":0.19},{"LDR":"LDR=3","strain":45.98,"stress":0.14},{"LDR":"LDR=3","strain":46.51,"stress":0.09},{"LDR":"LDR=3","strain":47.01,"stress":0.04},{"LDR":"LDR=3","strain":47.53,"stress":0},
{"LDR":"LDR=4","strain":0.28,"stress":0},{"LDR":"LDR=4","strain":0.81,"stress":0.89},{"LDR":"LDR=4","strain":1.43,"stress":1.59},{"LDR":"LDR=4","strain":2.06,"stress":2.19},{"LDR":"LDR=4","strain":2.9,"stress":2.69},{"LDR":"LDR=4","strain":3.61,"stress":2.79},{"LDR":"LDR=4","strain":4.24,"stress":2.99},{"LDR":"LDR=4","strain":4.95,"stress":3.29},{"LDR":"LDR=4","strain":5.48,"stress":3.47},{"LDR":"LDR=4","strain":6.01,"stress":3.44},{"LDR":"LDR=4","strain":6.51,"stress":3.34},{"LDR":"LDR=4","strain":7.04,"stress":3.24},{"LDR":"LDR=4","strain":7.57,"stress":3.16},{"LDR":"LDR=4","strain":8.07,"stress":3.11},{"LDR":"LDR=4","strain":8.6,"stress":3.02},{"LDR":"LDR=4","strain":9.13,"stress":2.99},{"LDR":"LDR=4","strain":9.63,"stress":2.95},{"LDR":"LDR=4","strain":10.16,"stress":2.92},{"LDR":"LDR=4","strain":10.68,"stress":2.81},{"LDR":"LDR=4","strain":11.18,"stress":2.71},{"LDR":"LDR=4","strain":11.71,"stress":2.59},{"LDR":"LDR=4","strain":12.24,"stress":2.53},{"LDR":"LDR=4","strain":12.74,"stress":2.51},{"LDR":"LDR=4","strain":13.27,"stress":2.49},{"LDR":"LDR=4","strain":13.8,"stress":2.45},{"LDR":"LDR=4","strain":14.3,"stress":2.41},{"LDR":"LDR=4","strain":14.83,"stress":2.42},{"LDR":"LDR=4","strain":15.36,"stress":2.42},{"LDR":"LDR=4","strain":15.86,"stress":2.44},{"LDR":"LDR=4","strain":16.38,"stress":2.47},{"LDR":"LDR=4","strain":16.91,"stress":2.42},{"LDR":"LDR=4","strain":17.41,"stress":2.39},{"LDR":"LDR=4","strain":17.94,"stress":2.33},{"LDR":"LDR=4","strain":18.47,"stress":2.29},{"LDR":"LDR=4","strain":18.97,"stress":2.29},{"LDR":"LDR=4","strain":19.5,"stress":2.3},{"LDR":"LDR=4","strain":20.03,"stress":2.32},{"LDR":"LDR=4","strain":20.53,"stress":2.33},{"LDR":"LDR=4","strain":21.06,"stress":2.34},{"LDR":"LDR=4","strain":21.59,"stress":2.35},{"LDR":"LDR=4","strain":22.09,"stress":2.32},{"LDR":"LDR=4","strain":22.61,"stress":2.29},{"LDR":"LDR=4","strain":23.14,"stress":2.24},{"LDR":"LDR=4","strain":23.64,"stress":2.19},{"LDR":"LDR=4","strain":24.17,"stress":2.16},{"LDR":"LDR=4","strain":24.7,"stress":2.13},{"LDR":"LDR=4","strain":25.2,"stress":2.11},{"LDR":"LDR=4","strain":25.73,"stress":2.09},{"LDR":"LDR=4","strain":26.26,"stress":2.07},{"LDR":"LDR=4","strain":26.76,"stress":2.06},{"LDR":"LDR=4","strain":27.29,"stress":2.05},{"LDR":"LDR=4","strain":27.82,"stress":2.06},{"LDR":"LDR=4","strain":28.32,"stress":2.03},{"LDR":"LDR=4","strain":28.84,"stress":2.0},{"LDR":"LDR=4","strain":29.37,"stress":1.99},{"LDR":"LDR=4","strain":29.87,"stress":2.01},{"LDR":"LDR=4","strain":30.4,"stress":1.98},{"LDR":"LDR=4","strain":30.93,"stress":1.96},{"LDR":"LDR=4","strain":31.43,"stress":1.97},{"LDR":"LDR=4","strain":31.96,"stress":1.97},{"LDR":"LDR=4","strain":32.49,"stress":1.95},{"LDR":"LDR=4","strain":32.99,"stress":1.93},{"LDR":"LDR=4","strain":33.52,"stress":1.91},{"LDR":"LDR=4","strain":34.05,"stress":1.92},{"LDR":"LDR=4","strain":34.55,"stress":1.87},{"LDR":"LDR=4","strain":35.07,"stress":1.79},{"LDR":"LDR=4","strain":35.6,"stress":1.76},{"LDR":"LDR=4","strain":36.1,"stress":1.73},{"LDR":"LDR=4","strain":36.63,"stress":1.7},{"LDR":"LDR=4","strain":37.16,"stress":1.68},{"LDR":"LDR=4","strain":37.66,"stress":1.67},{"LDR":"LDR=4","strain":38.19,"stress":1.66},{"LDR":"LDR=4","strain":38.72,"stress":1.63},{"LDR":"LDR=4","strain":39.22,"stress":1.59},{"LDR":"LDR=4","strain":39.75,"stress":1.56},{"LDR":"LDR=4","strain":40.28,"stress":1.53},{"LDR":"LDR=4","strain":40.78,"stress":1.47},{"LDR":"LDR=4","strain":41.3,"stress":1.43},{"LDR":"LDR=4","strain":41.83,"stress":1.4},{"LDR":"LDR=4","strain":42.33,"stress":1.38},{"LDR":"LDR=4","strain":42.86,"stress":1.31},{"LDR":"LDR=4","strain":43.39,"stress":1.26},{"LDR":"LDR=4","strain":43.89,"stress":1.23},{"LDR":"LDR=4","strain":44.42,"stress":1.21},{"LDR":"LDR=4","strain":44.95,"stress":1.2},{"LDR":"LDR=4","strain":45.45,"stress":1.19},{"LDR":"LDR=4","strain":45.98,"stress":1.19},{"LDR":"LDR=4","strain":46.51,"stress":1.2},{"LDR":"LDR=4","strain":47.01,"stress":1.19},{"LDR":"LDR=4","strain":47.53,"stress":1.19},{"LDR":"LDR=4","strain":48.06,"stress":1.16},{"LDR":"LDR=4","strain":48.56,"stress":1.13},{"LDR":"LDR=4","strain":49.09,"stress":1.07},{"LDR":"LDR=4","strain":49.62,"stress":1.03},{"LDR":"LDR=4","strain":50.12,"stress":0.97},{"LDR":"LDR=4","strain":50.65,"stress":0.93},{"LDR":"LDR=4","strain":51.18,"stress":0.86},{"LDR":"LDR=4","strain":51.68,"stress":0.79},{"LDR":"LDR=4","strain":52.21,"stress":0.72},{"LDR":"LDR=4","strain":52.74,"stress":0.66},{"LDR":"LDR=4","strain":53.23,"stress":0.59},{"LDR":"LDR=4","strain":53.76,"stress":0.53},{"LDR":"LDR=4","strain":54.29,"stress":0.46},{"LDR":"LDR=4","strain":54.79,"stress":0.39},{"LDR":"LDR=4","strain":55.32,"stress":0.32},{"LDR":"LDR=4","strain":55.85,"stress":0.26},{"LDR":"LDR=4","strain":56.35,"stress":0.19},{"LDR":"LDR=4","strain":56.88,"stress":0.13},{"LDR":"LDR=4","strain":57.41,"stress":0.07},{"LDR":"LDR=4","strain":57.91,"stress":0.01},{"LDR":"LDR=4","strain":58.13,"stress":0}
]},
"data": {"name": "curves"},
"layer": [
  {
    "mark": {"type": "line", "strokeWidth": 2.2, "strokeJoin": "round", "strokeCap": "round"},
    "encoding": {
      "x": {"field": "strain", "type": "quantitative", "scale": {"domain": [-4.8, 167.8], "nice": false, "zero": false},
            "axis": {"orient": "bottom", "values": [0, 50, 100, 150], "tickSize": -15, "labelPadding": 40, "title": "Strain (%)", "titleX": 280, "titleY": 82, "titleBaseline": "alphabetic", "titleAlign": "center"}},
      "y": {"field": "stress", "type": "quantitative", "scale": {"domain": [0, 4], "nice": false, "zero": false},
            "axis": {"orient": "left", "values": [0, 1, 2, 3, 4], "tickSize": -15, "labelPadding": 37, "title": "Stress (GPa)", "titleX": -62, "titleY": 200, "titleAngle": -90, "titleBaseline": "alphabetic", "titleAlign": "center"}},
      "color": {"field": "LDR", "type": "nominal",
                "scale": {"domain": ["LDR=1", "LDR=1.5", "LDR=2", "LDR=3", "LDR=4"], "range": ["#000000", "#FF0000", "#0000FF", "#00FF00", "#FF00FF"]},
                "legend": {"orient": "none", "legendX": 403, "legendY": 32.5, "title": null, "padding": 0, "symbolType": "stroke", "symbolSize": 1369, "symbolStrokeWidth": 3, "labelFontSize": 26, "labelColor": "black", "labelOffset": 6, "rowPadding": 0, "clipHeight": 25, "labelLimit": 300}}
    }
  },
  {
    "mark": {"type": "point", "opacity": 0, "size": 1},
    "encoding": {
      "x": {"field": "strain", "type": "quantitative", "scale": {"domain": [-4.8, 167.8], "nice": false, "zero": false},
            "axis": {"orient": "bottom", "values": [10, 20, 30, 40, 60, 70, 80, 90, 110, 120, 130, 140, 160], "tickSize": -8, "labels": false, "title": null}},
      "y": {"field": "stress", "type": "quantitative", "scale": {"domain": [0, 4], "nice": false, "zero": false},
            "axis": {"orient": "left", "values": [0.2, 0.4, 0.6, 0.8, 1.2, 1.4, 1.6, 1.8, 2.2, 2.4, 2.6, 2.8, 3.2, 3.4, 3.6, 3.8], "tickSize": -8, "labels": false, "title": null}}
    }
  }
],
"resolve": {"axis": {"x": "independent", "y": "independent"}}
}
